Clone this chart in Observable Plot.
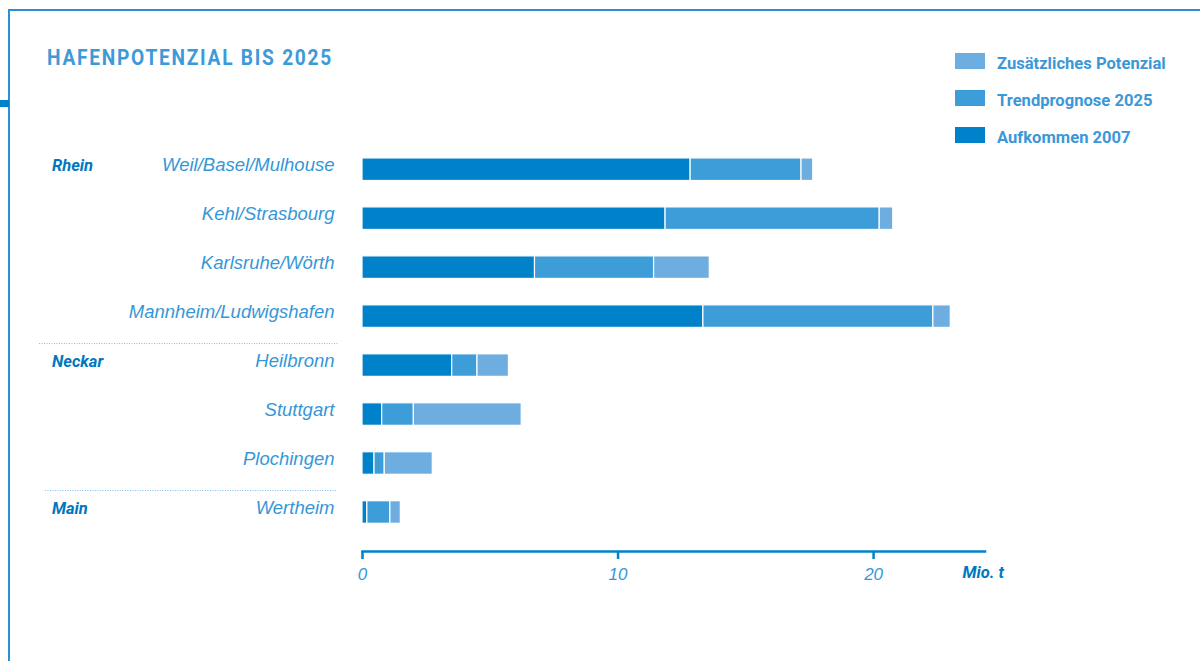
<!DOCTYPE html>
<html>
<head>
<meta charset="utf-8">
<script src="https://cdn.jsdelivr.net/npm/d3@7"></script>
<script src="https://cdn.jsdelivr.net/npm/@observablehq/plot@0.6"></script>
<style>
  html, body { margin: 0; padding: 0; background: #fff; overflow: hidden; }
  #wrap { position: relative; width: 1200px; height: 661px; }
  #chart { position: absolute; left: 0; top: 0; }
  .border-top { position: absolute; left: 8px; top: 9px; width: 1192px; height: 2px; background: #2a90d6; }
  .border-left { position: absolute; left: 8px; top: 9px; width: 2px; height: 652px; background: #2a90d6; }
  .blip { position: absolute; left: 0; top: 100px; width: 9px; height: 7px; background: #0082ca; }
  .title { position: absolute; left: 47px; top: 46.5px; font: 700 22px/22px "Roboto", sans-serif; letter-spacing: 2px;
           color: #3d9ad8; white-space: nowrap; transform: scaleX(0.87); transform-origin: left center; }
  .legend { position: absolute; left: 955px; top: 53px; }
  .legend .item { position: absolute; left: 0; height: 17px; white-space: nowrap; }
  .legend .sw { position: absolute; left: 0; top: 0; width: 30px; height: 16px; }
  .legend .lab { position: absolute; left: 42px; top: 1px; font: 700 17px/18px "Roboto", sans-serif; color: #3a98d8;
                 transform: scaleX(0.975); transform-origin: left center; }
</style>
</head>
<body>
<div id="wrap">
  <div id="chart"></div>
  <div class="border-top"></div>
  <div class="border-left"></div>
  <div class="blip"></div>
  <div class="title" id="title"></div>
  <div class="legend" id="legend"></div>
</div>
<script>
// ---------- data ----------
const titleText = "HAFENPOTENZIAL BIS 2025";
const cities = ["Weil/Basel/Mulhouse", "Kehl/Strasbourg", "Karlsruhe/Wörth", "Mannheim/Ludwigshafen",
                "Heilbronn", "Stuttgart", "Plochingen", "Wertheim"];
const rivers = ["Rhein", "Rhein", "Rhein", "Rhein", "Neckar", "Neckar", "Neckar", "Main"];
// cumulative totals in Mio. t
const aufkommen2007 = [12.84, 11.86, 6.75, 13.34, 3.51, 0.77, 0.47, 0.19];
const trend2025     = [17.18, 20.24, 11.41, 22.34, 4.50, 2.01, 0.87, 1.09];
const potenzial     = [17.64, 20.77, 13.59, 23.02, 5.73, 6.23, 2.75, 1.50];
const seriesNames = ["Zusätzliches Potenzial", "Trendprognose 2025", "Aufkommen 2007"];
const xTicks = [0, 10, 20];
const unitLabel = "Mio. t";

// ---------- styles ----------
const colors = {"Aufkommen 2007": "#0082ca", "Trendprognose 2025": "#3d9dd9", "Zusätzliches Potenzial": "#6eaddf"};
const labelBlue = "#3597d8";
const darkBlue = "#0077c0";
const sansFont = "'Liberation Sans', Arial, sans-serif";
const boldFont = "Roboto, sans-serif";
const xMax = 24.36;
const sepStarts = [-12.64, -12.41];   // separator start (x units, left of the bars)
const sepEnd = -0.96;

// ---------- build tables ----------
const rows = cities.map((c, i) => ({city: c, a: aufkommen2007[i], t: trend2025[i], p: potenzial[i]}));
const groups = [];
rivers.forEach((r, i) => { if (i === 0 || rivers[i - 1] !== r) groups.push({river: r, city: cities[i]}); });
const separators = groups.slice(1).map((g, i) => ({city: g.city, x1: sepStarts[i], x2: sepEnd}));

document.getElementById("title").textContent = titleText;
const legend = document.getElementById("legend");
seriesNames.forEach((name, i) => {
  const item = document.createElement("div");
  item.className = "item";
  item.style.top = (i * 37) + "px";
  item.innerHTML = `<div class="sw" style="background:${colors[name]}"></div><div class="lab">${name}</div>`;
  legend.appendChild(item);
});

const barStyle = {y: "city", stroke: "white", strokeWidth: 1.2};

const chart = Plot.plot({
  width: 1200,
  height: 661,
  marginLeft: 362,
  marginRight: 215.5,
  marginTop: 130.2,
  marginBottom: 110,
  style: {background: "transparent", fontFamily: sansFont, overflow: "visible"},
  x: {domain: [0, xMax], label: null},
  y: {domain: cities, paddingInner: 0.54, paddingOuter: 0.5665, round: false, label: null},
  marks: [
    Plot.barX(rows, {...barStyle, x1: 0, x2: "a", fill: colors["Aufkommen 2007"]}),
    Plot.barX(rows, {...barStyle, x1: "a", x2: "t", fill: colors["Trendprognose 2025"]}),
    Plot.barX(rows, {...barStyle, x1: "t", x2: "p", fill: colors["Zusätzliches Potenzial"]}),
    Plot.frame({anchor: "bottom", stroke: "#0082ca", strokeWidth: 2.5}),
    Plot.axisX({ticks: xTicks, tickFormat: d => String(d), tickSize: 8, tickPadding: 8,
      stroke: "#0082ca", strokeWidth: 2.5, fill: labelBlue, fontSize: 17, fontStyle: "italic", label: null}),
    Plot.axisY({tickSize: 0, tickPadding: 28, dy: -4.5, fill: labelBlue, fontSize: 18.5, fontStyle: "italic", label: null}),
    Plot.text(groups, {y: "city", text: "river", frameAnchor: "left", dx: -310.5, dy: -3.5, textAnchor: "start",
      fill: darkBlue, fontWeight: "bold", fontStyle: "italic", fontSize: 16.5, fontFamily: boldFont}),
    Plot.ruleY(separators, {y: "city", x1: "x1", x2: "x2", dy: -22, stroke: "#7dbce8", strokeWidth: 1, strokeDasharray: "1,1.5"}),
    Plot.text([unitLabel], {frameAnchor: "bottom-right", dx: 19, dy: 21, textAnchor: "end", lineAnchor: "middle",
      fill: darkBlue, fontWeight: "bold", fontStyle: "italic", fontSize: 16.5, fontFamily: boldFont})
  ]
});
document.getElementById("chart").appendChild(chart);
</script>
</body>
</html>
